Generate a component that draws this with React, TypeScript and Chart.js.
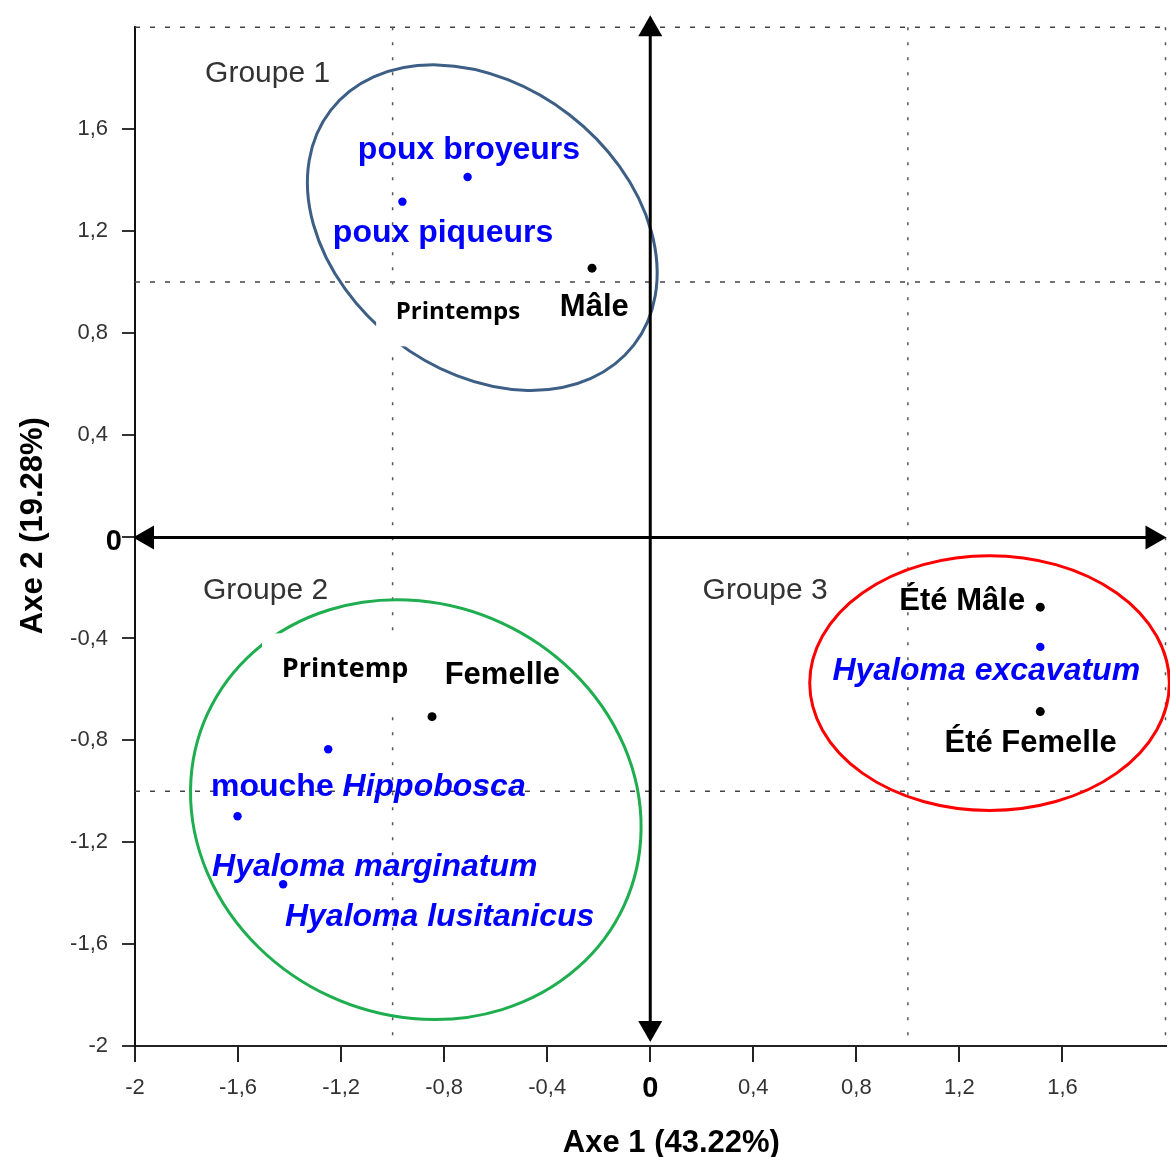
import React, { useEffect, useRef } from 'react';
import { Chart, registerables } from 'chart.js';

Chart.register(...registerables);

// ---- axis ticks ----
const xTickValues = [-2, -1.6, -1.2, -0.8, -0.4, 0, 0.4, 0.8, 1.2, 1.6];
const xTickLabels = ['-2', '-1,6', '-1,2', '-0,8', '-0,4', '0', '0,4', '0,8', '1,2', '1,6'];
const yTickValues = [-2, -1.6, -1.2, -0.8, -0.4, 0, 0.4, 0.8, 1.2, 1.6];
const yTickLabels = ['-2', '-1,6', '-1,2', '-0,8', '-0,4', '0', '0,4', '0,8', '1,2', '1,6'];
const xTitle = 'Axe 1 (43.22%)';
const yTitle = 'Axe 2 (19.28%)';

// ---- variables (blue points) ----
const blueNames = ['poux broyeurs', 'poux piqueurs', 'mouche Hippobosca', 'Hyaloma marginatum', 'Hyaloma lusitanicus', 'Hyaloma excavatum'];
const blueX = [-0.709, -0.962, -1.25, -1.602, -1.425, 1.514];
const blueY = [1.412, 1.315, -0.835, -1.098, -1.365, -0.433];

// ---- modalities (black points) ----
const blackNames = ['Mâle', 'Femelle', 'Été Mâle', 'Été Femelle'];
const blackX = [-0.226, -0.847, 1.514, 1.514];
const blackY = [1.054, -0.707, -0.277, -0.687];

// ---- groups (ellipses, data units) ----
const groupNames = ['Groupe 1', 'Groupe 2', 'Groupe 3'];
const groupCenterX = [-0.652, -0.91, 1.317];
const groupCenterY = [1.213, -1.072, -0.575];
const groupRadiusA = [0.744, 0.89, 0.698];
const groupRadiusB = [0.56, 0.807, 0.5];
const groupAngle = [37.8, 24.8, 0];

// ---- reference lines ----
const refLinesX = [-1, 1];
const refLinesY = [1, -1];

const FAMILY = '"Liberation Sans", Arial, sans-serif';
const groupColors = ['#3d5f86', '#1fae4f', '#ff0000'];

type Part = [string, boolean];
type Ann = { parts: Part[]; x: number; y: number; kind: string };

// text annotations: x = left edge, y = baseline (data units)
const annotations: Ann[] = [
  { parts: [[groupNames[0], false]], x: -1.728, y: 1.784, kind: 'group' },
  { parts: [[groupNames[1], false]], x: -1.736, y: -0.246, kind: 'group' },
  { parts: [[groupNames[2], false]], x: 0.203, y: -0.246, kind: 'group' },
  { parts: [[blueNames[0], false]], x: -1.135, y: 1.483, kind: 'blue' },
  { parts: [[blueNames[1], false]], x: -1.232, y: 1.158, kind: 'blue' },
  { parts: [['Printemps', false]], x: -0.988, y: 0.853, kind: 'season1' },
  { parts: [[blackNames[0], false]], x: -0.351, y: 0.865, kind: 'black' },
  { parts: [['Printemp', false]], x: -1.43, y: -0.552, kind: 'season2' },
  { parts: [[blackNames[1], false]], x: -0.798, y: -0.579, kind: 'black' },
  { parts: [['mouche ', false], ['Hippobosca', true]], x: -1.705, y: -1.017, kind: 'blue' },
  { parts: [[blueNames[3], true]], x: -1.701, y: -1.334, kind: 'blue' },
  { parts: [[blueNames[4], true]], x: -1.418, y: -1.53, kind: 'blue' },
  { parts: [[blackNames[2], false]], x: 0.967, y: -0.29, kind: 'black' },
  { parts: [[blueNames[5], true]], x: 0.707, y: -0.563, kind: 'blue' },
  { parts: [[blackNames[3], false]], x: 1.142, y: -0.845, kind: 'black' },
];

// white masking boxes behind the "Printemps" labels (data units)
const maskBoxes = [
  { x1: -1.064, y1: 0.99, x2: -0.498, y2: 0.747 },
  { x1: -1.507, y1: -0.38, x2: -0.875, y2: -0.7 },
];

function fontFor(kind: string, italic: boolean): { font: string; color: string } {
  const it = italic ? 'italic ' : '';
  switch (kind) {
    case 'group':
      return { font: `30px ${FAMILY}`, color: '#333333' };
    case 'blue':
      return { font: `${it}bold 32px ${FAMILY}`, color: '#0000ff' };
    case 'black':
      return { font: `bold 31px ${FAMILY}`, color: '#000000' };
    case 'season1':
      return { font: `bold 24px "Open Sans", "Noto Sans", sans-serif`, color: '#000000' };
    case 'season2':
      return { font: `bold 27px "Open Sans", "Noto Sans", sans-serif`, color: '#000000' };
    default:
      return { font: `16px ${FAMILY}`, color: '#000' };
  }
}

function drawArrowHead(ctx: CanvasRenderingContext2D, tx: number, ty: number, dx: number, dy: number) {
  const len = 21;
  const half = 12;
  const bx = tx - dx * len;
  const by = ty - dy * len;
  ctx.beginPath();
  ctx.moveTo(tx, ty);
  ctx.lineTo(bx - dy * half, by + dx * half);
  ctx.lineTo(bx + dy * half, by - dx * half);
  ctx.closePath();
  ctx.fill();
}

const decorPlugin = {
  id: 'decor',
  beforeDatasetsDraw(chart: any) {
    const { ctx, chartArea: ca } = chart;
    const xs = chart.scales.x;
    const ys = chart.scales.y;
    ctx.save();
    // horizontal dashed reference lines + top border
    ctx.strokeStyle = '#444';
    ctx.lineWidth = 1.5;
    ctx.setLineDash([5, 10]);
    const hLines = [...refLinesY.map((v) => ys.getPixelForValue(v)), ca.top];
    for (const py of hLines) {
      ctx.beginPath();
      ctx.moveTo(ca.left, py);
      ctx.lineTo(ca.right, py);
      ctx.stroke();
    }
    // vertical dotted reference lines + right border
    ctx.setLineDash([3, 12]);
    ctx.strokeStyle = '#555';
    const vLines = [...refLinesX.map((v) => xs.getPixelForValue(v)), ca.right];
    for (const px of vLines) {
      ctx.beginPath();
      ctx.moveTo(px, ca.top);
      ctx.lineTo(px, ca.bottom);
      ctx.stroke();
    }
    ctx.setLineDash([]);
    // group ellipses
    const ux = Math.abs(xs.getPixelForValue(1) - xs.getPixelForValue(0));
    const uy = Math.abs(ys.getPixelForValue(1) - ys.getPixelForValue(0));
    ctx.lineWidth = 3;
    for (let i = 0; i < groupNames.length; i++) {
      ctx.strokeStyle = groupColors[i];
      ctx.beginPath();
      ctx.ellipse(
        xs.getPixelForValue(groupCenterX[i]),
        ys.getPixelForValue(groupCenterY[i]),
        groupRadiusA[i] * ux,
        groupRadiusB[i] * uy,
        (groupAngle[i] * Math.PI) / 180,
        0,
        Math.PI * 2
      );
      ctx.stroke();
    }
    ctx.restore();
  },
  afterDatasetsDraw(chart: any) {
    const { ctx, chartArea: ca } = chart;
    const xs = chart.scales.x;
    const ys = chart.scales.y;
    ctx.save();
    // white masks
    ctx.fillStyle = '#ffffff';
    for (const b of maskBoxes) {
      const x1 = xs.getPixelForValue(b.x1);
      const x2 = xs.getPixelForValue(b.x2);
      const y1 = ys.getPixelForValue(b.y1);
      const y2 = ys.getPixelForValue(b.y2);
      ctx.fillRect(x1, y1, x2 - x1, y2 - y1);
    }
    // axes arrows
    const x0 = xs.getPixelForValue(0);
    const y0 = ys.getPixelForValue(0) + 1;
    ctx.strokeStyle = '#000';
    ctx.fillStyle = '#000';
    ctx.lineWidth = 3;
    const topTip = ca.top - 12;
    const botTip = ca.bottom - 4;
    ctx.beginPath();
    ctx.moveTo(x0, topTip + 10);
    ctx.lineTo(x0, botTip - 10);
    ctx.stroke();
    drawArrowHead(ctx, x0, topTip, 0, -1);
    drawArrowHead(ctx, x0, botTip, 0, 1);
    const leftTip = ca.left - 2;
    const rightTip = ca.right + 1;
    ctx.beginPath();
    ctx.moveTo(leftTip + 10, y0);
    ctx.lineTo(rightTip - 10, y0);
    ctx.stroke();
    drawArrowHead(ctx, leftTip, y0, -1, 0);
    drawArrowHead(ctx, rightTip, y0, 1, 0);

    // bold "0" tick labels at the origin of each axis
    ctx.fillStyle = '#000';
    ctx.font = `bold 29px ${FAMILY}`;
    ctx.textBaseline = 'middle';
    ctx.textAlign = 'center';
    ctx.fillText(xTickLabels[xTickValues.indexOf(0)], x0, ca.bottom + 43);
    ctx.textAlign = 'right';
    ctx.fillText(yTickLabels[yTickValues.indexOf(0)], ca.left - 13, y0 + 4);

    // annotations
    ctx.textBaseline = 'alphabetic';
    ctx.textAlign = 'left';
    for (const a of annotations) {
      let px = xs.getPixelForValue(a.x);
      const py = ys.getPixelForValue(a.y);
      for (const [t, it] of a.parts) {
        const f = fontFor(a.kind, it);
        ctx.font = f.font;
        ctx.fillStyle = f.color;
        ctx.fillText(t, px, py);
        px += ctx.measureText(t).width;
      }
    }

    // axis titles
    ctx.fillStyle = '#000';
    ctx.font = `bold 31px ${FAMILY}`;
    ctx.textAlign = 'center';
    ctx.fillText(xTitle, xs.getPixelForValue(0.082), chart.height - 5);
    ctx.save();
    ctx.translate(42, ys.getPixelForValue(0.043));
    ctx.rotate(-Math.PI / 2);
    ctx.fillText(yTitle, 0, 0);
    ctx.restore();
    ctx.restore();
  },
};

export default function App() {
  const ref = useRef<HTMLCanvasElement | null>(null);
  useEffect(() => {
    if (!ref.current) return;
    const tickFont = { family: FAMILY, size: 22 };
    const chart = new Chart(ref.current, {
      type: 'scatter',
      data: {
        datasets: [
          {
            label: 'Variables',
            data: blueX.map((x, i) => ({ x, y: blueY[i] })),
            backgroundColor: '#0000ff',
            borderColor: '#0000ff',
            pointRadius: 4.2,
            borderWidth: 0,
          },
          {
            label: 'Modalités',
            data: blackX.map((x, i) => ({ x, y: blackY[i] })),
            backgroundColor: '#000000',
            borderColor: '#000000',
            pointRadius: 4.5,
            borderWidth: 0,
          },
        ],
      },
      options: {
        responsive: false,
        animation: false,
        devicePixelRatio: 1,
        layout: { padding: { top: 25, right: 4, left: 0, bottom: 0 } },
        plugins: { legend: { display: false }, tooltip: { enabled: false } },
        scales: {
          x: {
            type: 'linear',
            position: 'bottom',
            min: -2,
            max: 2,
            afterBuildTicks: (s: any) => {
              s.ticks = xTickValues.map((v) => ({ value: v }));
            },
            afterFit: (s: any) => {
              s.height = 111;
            },
            ticks: {
              autoSkip: false,
              maxRotation: 0,
              padding: 13,
              font: tickFont,
              color: '#333',
              callback: (_v: any, i: number) => (xTickValues[i] === 0 ? '' : xTickLabels[i]),
            },
            grid: { drawOnChartArea: false, drawTicks: true, tickLength: 16, color: '#222', lineWidth: 2 },
            border: { display: true, color: '#222', width: 2 },
          },
          y: {
            type: 'linear',
            position: 'left',
            min: -2,
            max: 2,
            afterBuildTicks: (s: any) => {
              s.ticks = yTickValues.map((v) => ({ value: v }));
            },
            afterFit: (s: any) => {
              s.width = 135;
            },
            ticks: {
              autoSkip: false,
              padding: 14,
              font: tickFont,
              color: '#333',
              callback: (_v: any, i: number) => (yTickValues[i] === 0 ? '' : yTickLabels[i]),
            },
            grid: { drawOnChartArea: false, drawTicks: true, tickLength: 13, color: '#333', lineWidth: 2 },
            border: { display: true, color: '#111', width: 2 },
          },
        },
      },
      plugins: [decorPlugin],
    } as any);
    return () => chart.destroy();
  }, []);
  return (
    <canvas
      ref={ref}
      width={1170}
      height={1157}
      style={{ position: 'absolute', left: 0, top: 0, display: 'block', background: '#fff' }}
    />
  );
}
